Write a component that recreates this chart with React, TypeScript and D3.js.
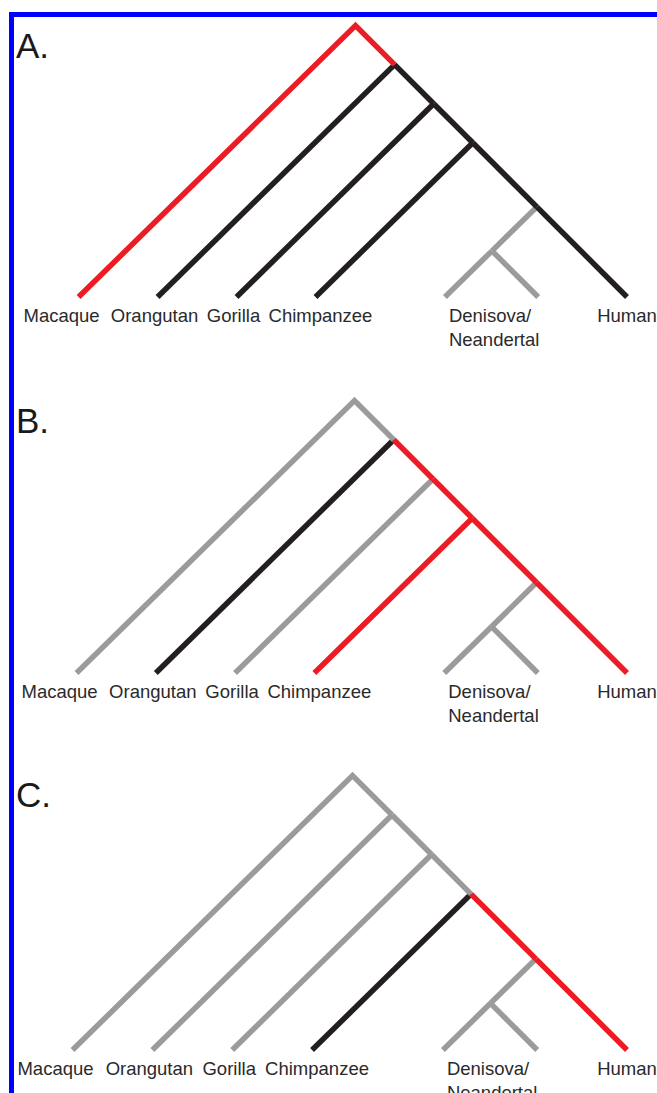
import React, { useEffect, useRef } from 'react'
import * as d3 from 'd3'

// taxa that branch off the human lineage, in order from the root
const outgroups = ['Macaque', 'Orangutan', 'Gorilla', 'Chimpanzee']
// relative depth (root = 100) of the node where each outgroup splits off
const outgroupSplitDepth = [100, 85.6, 71.2, 56.8]
// archaic humans join the human lineage here, then split into two
const archaicJoinDepth = 33.2
const archaicSplitDepth = 17
const archaicLabel = ['Denisova/', 'Neandertal']
const humanLabel = 'Human'
const panelLetters = ['A.', 'B.', 'C.']

// branch order:
// root-Macaque, root-n1, n1-Orangutan, n1-n2, n2-Gorilla, n2-n3,
// n3-Chimpanzee, n3-n4, n4-Human, n4-n5, n5-Denisova, n5-Neandertal
const panelA = ['hi', 'hi', 'on', 'on', 'on', 'on', 'on', 'on', 'on', 'off', 'off', 'off']
const panelB = ['off', 'off', 'on', 'hi', 'off', 'hi', 'hi', 'hi', 'hi', 'off', 'off', 'off']
const panelC = ['off', 'off', 'off', 'off', 'off', 'off', 'on', 'hi', 'hi', 'off', 'off', 'off']

const App: React.FC = () => {
  const svgRef = useRef<SVGSVGElement>(null)

  useEffect(() => {
    if (!svgRef.current) return
    const svg = d3.select(svgRef.current)
    svg.selectAll('*').remove()

    const width = 657
    const height = 1093
    const humanX = 627
    const slopeL = 1.02
    const color: Record<string, string> = { hi: '#ed1c24', on: '#231f20', off: '#9b9b9b' }
    const font = "'Liberation Sans', Arial, sans-serif"
    const textColor = '#2a2a2a'
    const labelDx: Record<string, number> = { Macaque: -17, Orangutan: -3, Gorilla: -3, Chimpanzee: 5 }

    const layout = [
      { base: 297, top: 25.5, letterY: 58 },
      { base: 673, top: 400.5, letterY: 433 },
      { base: 1050, top: 775.5, letterY: 807 }
    ]
    const states = [panelA, panelB, panelC]

    svg.attr('width', width).attr('height', height)

    // blue frame (only top and left edges fall inside the picture)
    svg.append('rect')
      .attr('x', 11.5)
      .attr('y', 14.5)
      .attr('width', 800)
      .attr('height', 1300)
      .attr('fill', 'none')
      .attr('stroke', '#0000ff')
      .attr('stroke-width', 5)

    layout.forEach((p, pi) => {
      const g = svg.append('g')
      const y = d3.scaleLinear().domain([0, 100]).range([p.base, p.top])
      const node = (d: number): [number, number] => {
        const yy = y(d)
        return [humanX - (p.base - yy), yy]
      }
      const leftTip = (n: [number, number]): [number, number] =>
        [n[0] - slopeL * (p.base - n[1]), p.base]

      const spine = outgroupSplitDepth.map(node)
      const tips = spine.map(leftTip)
      const n4 = node(archaicJoinDepth)
      const human: [number, number] = [humanX, p.base]
      const deni = leftTip(n4)
      const h5 = p.base - y(archaicSplitDepth)
      const n5: [number, number] = [deni[0] + slopeL * h5, y(archaicSplitDepth)]
      const nean: [number, number] = [n5[0] + h5, p.base]

      const edges: [number, [number, number][]][] = [
        [9, [n4, n5]], [10, [n5, deni]], [11, [n5, nean]],
        [2, [spine[1], tips[1]]], [4, [spine[2], tips[2]]], [6, [spine[3], tips[3]]],
        [3, [spine[1], spine[2]]], [5, [spine[2], spine[3]]], [7, [spine[3], n4]], [8, [n4, human]],
        [0, [tips[0], spine[0]]], [1, [spine[0], spine[1]]]
      ]
      const st = states[pi]
      const line = d3.line()

      edges.forEach(([k, pts]) => {
        // the two root branches are drawn as one path so the apex is mitred
        if (k === 0 && st[0] === st[1]) return
        const path = k === 1 && st[0] === st[1] ? [tips[0], spine[0], spine[1]] : pts
        g.append('path')
          .attr('d', line(path))
          .attr('fill', 'none')
          .attr('stroke', color[st[k]])
          .attr('stroke-width', 5.5)
          .attr('stroke-linecap', 'butt')
          .attr('stroke-linejoin', 'miter')
          .attr('stroke-miterlimit', 10)
      })

      // tip labels
      outgroups.forEach((name, i) => {
        g.append('text')
          .attr('x', tips[i][0] + (labelDx[name] || 0))
          .attr('y', p.base + 25)
          .attr('text-anchor', 'middle')
          .style('font-family', font)
          .style('font-size', '18.5px')
          .style('fill', textColor)
          .text(name)
      })
      archaicLabel.forEach((t, i) => {
        g.append('text')
          .attr('x', deni[0] + 4)
          .attr('y', p.base + 25 + i * 24)
          .attr('text-anchor', 'start')
          .style('font-family', font)
          .style('font-size', '18.5px')
          .style('fill', textColor)
          .text(t)
      })
      g.append('text')
        .attr('x', humanX)
        .attr('y', p.base + 25)
        .attr('text-anchor', 'middle')
        .style('font-family', font)
        .style('font-size', '18.5px')
        .style('fill', textColor)
        .text(humanLabel)

      // panel letter
      g.append('text')
        .attr('x', 16)
        .attr('y', p.letterY)
        .style('font-family', font)
        .style('font-size', '35px')
        .style('fill', '#1a1a1a')
        .text(panelLetters[pi])
    })
  }, [])

  return (
    <svg ref={svgRef} style={{ position: 'absolute', left: 0, top: 0, background: '#fff' }}></svg>
  )
}

export default App
